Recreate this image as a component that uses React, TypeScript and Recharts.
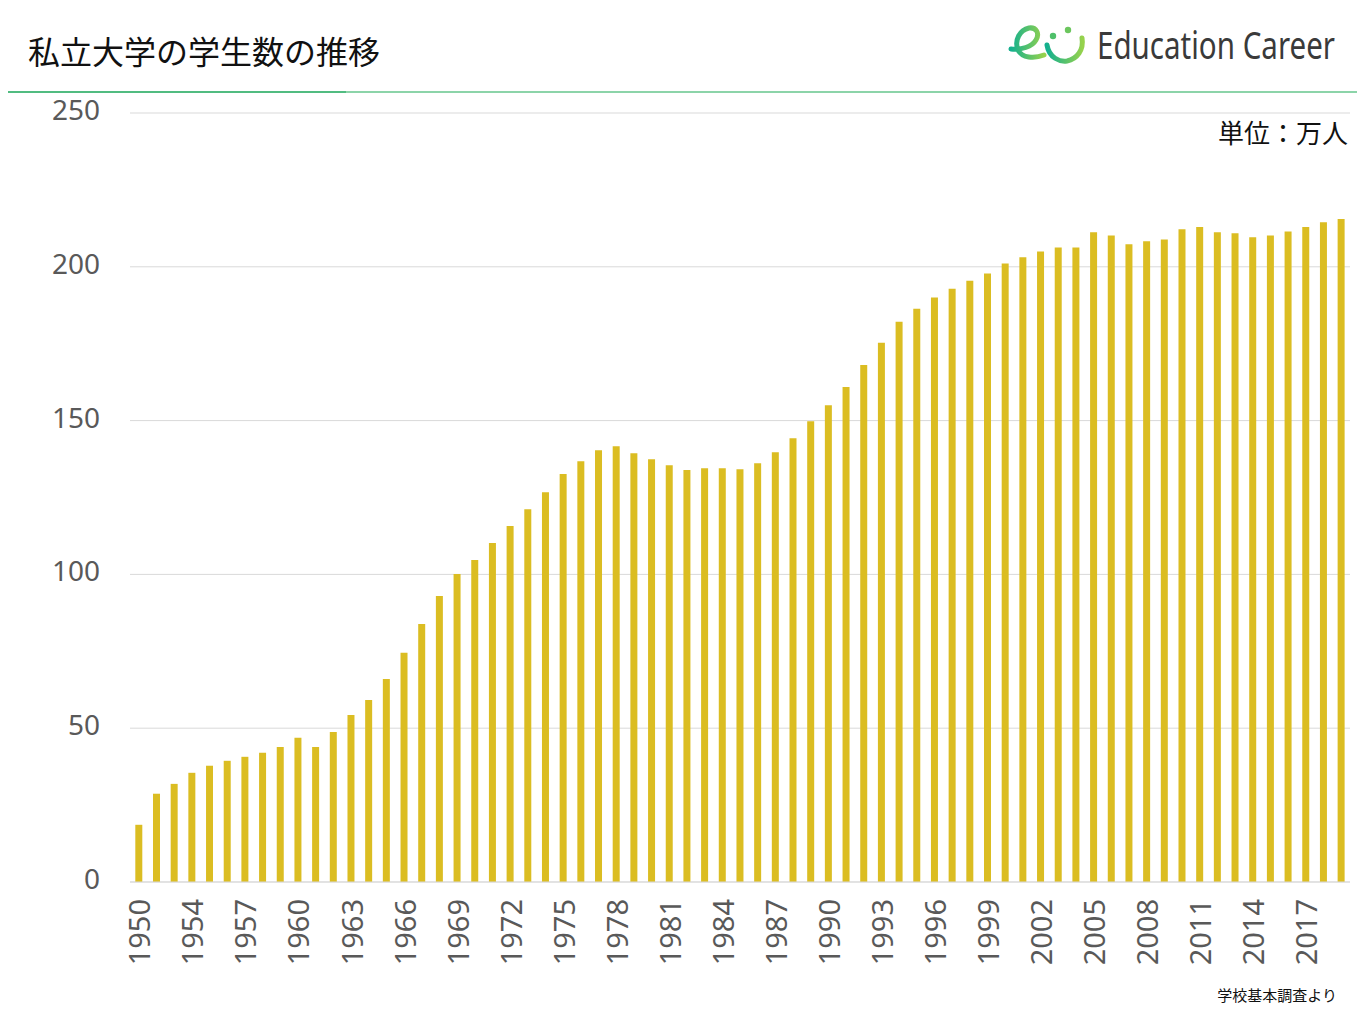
import React from 'react';
import { BarChart, Bar, XAxis, YAxis, CartesianGrid } from 'recharts';

// 年度（ラベルは3本おき）
const YEARS = [
  '1950', '1952', '1953',
  '1954', '1955', '1956', '1957', '1958', '1959', '1960', '1961', '1962', '1963',
  '1964', '1965', '1966', '1967', '1968', '1969', '1970', '1971', '1972', '1973',
  '1974', '1975', '1976', '1977', '1978', '1979', '1980', '1981', '1982', '1983',
  '1984', '1985', '1986', '1987', '1988', '1989', '1990', '1991', '1992', '1993',
  '1994', '1995', '1996', '1997', '1998', '1999', '2000', '2001', '2002', '2003',
  '2004', '2005', '2006', '2007', '2008', '2009', '2010', '2011', '2012', '2013',
  '2014', '2015', '2016', '2017', '2018', '2019',
];

// 私立大学の学生数（万人）
const STUDENTS = [
  18.6, 28.7, 31.9, 35.5, 37.8, 39.4, 40.7, 42.0, 43.9, 46.9,
  43.9, 48.8, 54.3, 59.2, 66.0, 74.5, 83.9, 93.0, 100.1, 104.7,
  110.2, 115.7, 121.2, 126.7, 132.6, 136.8, 140.4, 141.7, 139.4, 137.4,
  135.5, 133.9, 134.5, 134.5, 134.2, 136.1, 139.7, 144.3, 149.8, 155.0,
  160.9, 168.1, 175.3, 182.1, 186.4, 190.0, 192.9, 195.5, 197.8, 201.1,
  203.1, 205.0, 206.3, 206.3, 211.2, 210.2, 207.3, 208.3, 208.9, 212.2,
  212.9, 211.2, 210.9, 209.6, 210.2, 211.5, 212.9, 214.5, 215.5,
];

const Y_TICKS = [0, 50, 100, 150, 200, 250];

const TITLE = '私立大学の学生数の推移';
const UNIT = '単位：万人';
const SOURCE = '学校基本調査より';
const BRAND = 'Education Career';

const data = YEARS.map((year, i) => ({ year, value: STUDENTS[i] }));

const JP_FONT = '"Noto Sans CJK JP", "Noto Sans", sans-serif';
const NUM_FONT = '"Noto Sans", "Open Sans", sans-serif';
const TICK_COLOR = '#595959';

const YTick = ({ x, y, payload }) => (
  <text
    x={x}
    y={y - 4}
    textAnchor="end"
    dominantBaseline="central"
    fill={TICK_COLOR}
    fontSize={28}
    fontFamily={NUM_FONT}
  >
    {payload.value}
  </text>
);

const XTick = ({ x, y, payload }) => (
  <text
    transform={`translate(${x},${y}) rotate(-90)`}
    textAnchor="end"
    dominantBaseline="central"
    fill={TICK_COLOR}
    fontSize={29}
    fontFamily={NUM_FONT}
  >
    {payload.value}
  </text>
);

function Header() {
  return (
    <svg
      width={1365}
      height={100}
      style={{ position: 'absolute', left: 0, top: 0 }}
    >
      <defs>
        <linearGradient id="logoGrad" x1="0" y1="0" x2="1" y2="0">
          <stop offset="0%" stopColor="#14b08e" />
          <stop offset="100%" stopColor="#96d24c" />
        </linearGradient>
      </defs>
      <path
        d="M1011,49 C1021,50 1032,47 1036,40 C1040,33 1036,27 1029,28 C1020,30 1014,40 1018,50 C1022,58 1034,59 1044,55"
        fill="none"
        stroke="url(#logoGrad)"
        strokeWidth={5}
        strokeLinecap="round"
      />
      <path
        d="M1047,45 C1049,58 1060,62 1067,61 C1077,59 1084,50 1082,38"
        fill="none"
        stroke="url(#logoGrad)"
        strokeWidth={5}
        strokeLinecap="round"
      />
      <circle cx={1053} cy={36} r={3.2} fill="#4fc06a" />
      <circle cx={1068} cy={30} r={3.2} fill="#6cc65e" />
      <text
        transform="translate(1097,59) scale(0.7,1)"
        x={0}
        y={0}
        fontSize={38}
        fontFamily={NUM_FONT}
        fill="#3a3a3a"
        textLength={340}
        lengthAdjust="spacingAndGlyphs"
      >
        {BRAND}
      </text>
      <line x1={8} y1={92} x2={346} y2={92} stroke="#17a657" strokeWidth={1.5} />
      <line x1={346} y1={92} x2={1357} y2={92} stroke="#66c68c" strokeWidth={1.5} />
    </svg>
  );
}

export default function App() {
  return (
    <div
      style={{
        position: 'absolute',
        left: 0,
        top: 0,
        width: 1365,
        height: 1024,
        background: '#ffffff',
        overflow: 'hidden',
      }}
    >
      <BarChart
        width={1365}
        height={1024}
        data={data}
        margin={{ top: 113, right: 15, bottom: 42, left: 50 }}
        barCategoryGap="30%"
      >
        <CartesianGrid vertical={false} stroke="#d9d9d9" />
        <XAxis
          dataKey="year"
          interval={2}
          height={100}
          tickLine={false}
          tickSize={0}
          tickMargin={17}
          axisLine={{ stroke: '#d9d9d9' }}
          tick={XTick}
        />
        <YAxis
          domain={[0, 250]}
          ticks={Y_TICKS}
          width={80}
          axisLine={false}
          tickLine={false}
          tickSize={0}
          tickMargin={30}
          tick={YTick}
        />
        <Bar dataKey="value" fill="#dbbd22" isAnimationActive={false} />
      </BarChart>

      <Header />

      <div
        style={{
          position: 'absolute',
          left: 28,
          top: 32,
          fontSize: 32,
          lineHeight: '36px',
          fontFamily: JP_FONT,
          color: '#111',
          whiteSpace: 'nowrap',
        }}
      >
        {TITLE}
      </div>
      <div
        style={{
          position: 'absolute',
          right: 17,
          top: 116,
          fontSize: 26,
          lineHeight: '32px',
          fontFamily: JP_FONT,
          color: '#111',
          whiteSpace: 'nowrap',
        }}
      >
        {UNIT}
      </div>
      <div
        style={{
          position: 'absolute',
          right: 28,
          top: 985,
          fontSize: 15,
          lineHeight: '20px',
          fontFamily: JP_FONT,
          color: '#111',
          whiteSpace: 'nowrap',
        }}
      >
        {SOURCE}
      </div>
    </div>
  );
}
